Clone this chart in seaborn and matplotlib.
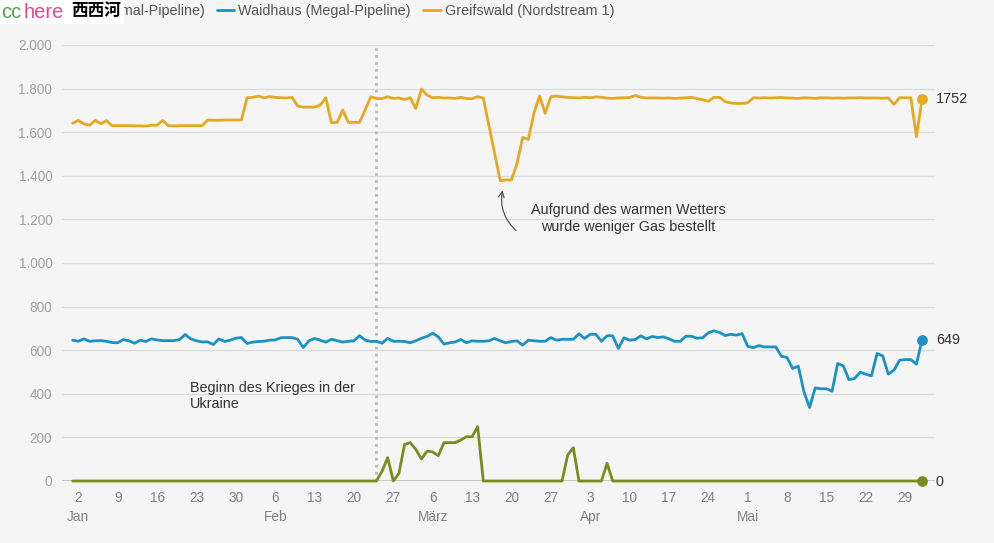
import numpy as np
import pandas as pd
import matplotlib
matplotlib.use("Agg")
import matplotlib.pyplot as plt
import matplotlib.dates as mdates
from matplotlib.patches import Rectangle
import seaborn as sns

# Gasfluss nach Deutschland, taeglich vom 1. Jan bis 1. Juni
dates = pd.date_range("2022-01-01", periods=152, freq="D")

greifswald = [
    1641, 1654, 1638, 1632, 1654, 1639, 1653, 1630, 1630, 1630, 1630, 1629, 1629, 1628,
    1632, 1632, 1654, 1630, 1629, 1630, 1630, 1630, 1630, 1630, 1656, 1655, 1655, 1656,
    1656, 1656, 1656, 1758, 1760, 1766, 1758, 1763, 1760, 1758, 1757, 1760, 1720, 1715,
    1715, 1715, 1724, 1758, 1644, 1644, 1702, 1645, 1645, 1645, 1702, 1763, 1755, 1754,
    1763, 1755, 1757, 1750, 1758, 1709, 1798, 1770, 1758, 1760, 1757, 1757, 1755, 1760,
    1754, 1754, 1763, 1757, 1631, 1504, 1378, 1381, 1381, 1457, 1576, 1567, 1687, 1766,
    1687, 1763, 1766, 1762, 1760, 1758, 1757, 1760, 1758, 1762, 1760, 1756, 1755, 1757,
    1758, 1759, 1768, 1760, 1757, 1757, 1757, 1756, 1757, 1755, 1756, 1758, 1760, 1754,
    1749, 1742, 1760, 1760, 1740, 1734, 1732, 1732, 1735, 1758, 1757, 1758, 1757, 1758,
    1759, 1757, 1756, 1755, 1758, 1757, 1755, 1758, 1758, 1756, 1757, 1756, 1757, 1757,
    1758, 1757, 1757, 1757, 1756, 1757, 1728, 1758, 1758, 1758, 1579, 1752,
]

waidhaus = [
    646, 641, 652, 641, 643, 644, 641, 635, 634, 649, 643, 632, 646, 640,
    652, 647, 644, 644, 644, 649, 672, 652, 643, 638, 638, 626, 652, 640,
    646, 655, 658, 631, 637, 640, 641, 646, 647, 657, 658, 658, 650, 612,
    643, 654, 646, 637, 650, 644, 637, 641, 643, 667, 646, 640, 641, 632,
    654, 641, 641, 640, 634, 643, 655, 663, 678, 661, 628, 634, 638, 649,
    634, 643, 641, 641, 643, 654, 643, 634, 640, 643, 623, 646, 643, 641,
    641, 658, 646, 650, 650, 650, 675, 654, 673, 673, 641, 666, 666, 608,
    657, 646, 649, 666, 652, 663, 658, 661, 652, 641, 641, 664, 664, 655,
    657, 680, 689, 681, 667, 673, 669, 676, 618, 612, 621, 615, 615, 615,
    572, 566, 516, 527, 409, 337, 427, 423, 423, 412, 539, 528, 465, 470,
    499, 490, 482, 585, 574, 490, 508, 554, 557, 557, 536, 649,
]

mallnow = [
    0, 0, 0, 0, 0, 0, 0, 0, 0, 0, 0, 0, 0, 0,
    0, 0, 0, 0, 0, 0, 0, 0, 0, 0, 0, 0, 0, 0,
    0, 0, 0, 0, 0, 0, 0, 0, 0, 0, 0, 0, 0, 0,
    0, 0, 0, 0, 0, 0, 0, 0, 0, 0, 0, 0, 0, 45,
    107, 0, 35, 168, 176, 145, 101, 137, 133, 116, 176, 176, 176, 188,
    203, 203, 249, 0, 0, 0, 0, 0, 0, 0, 0, 0, 0, 0,
    0, 0, 0, 0, 119, 153, 0, 0, 0, 0, 0, 81, 0, 0,
    0, 0, 0, 0, 0, 0, 0, 0, 0, 0, 0, 0, 0, 0,
    0, 0, 0, 0, 0, 0, 0, 0, 0, 0, 0, 0, 0, 0,
    0, 0, 0, 0, 0, 0, 0, 0, 0, 0, 0, 0, 0, 0,
    0, 0, 0, 0, 0, 0, 0, 0, 0, 0, 0, 0,
]

names = ["Mallnow (Jamal-Pipeline)", "Waidhaus (Megal-Pipeline)", "Greifswald (Nordstream 1)"]
colors = ["#7b8c1f", "#1a93c4", "#e5a823"]
monate = {1: "Jan", 2: "Feb", 3: "März", 4: "Apr", 5: "Mai"}

df = pd.DataFrame({"date": dates, names[0]: mallnow, names[1]: waidhaus, names[2]: greifswald})
long = df.melt(id_vars="date", var_name="pipeline", value_name="value")

sns.set_style("white")
plt.rcParams["font.family"] = ["Liberation Sans", "DejaVu Sans"]

bg = "#f5f5f5"
fig = plt.figure(figsize=(9.95, 5.43), dpi=100, facecolor=bg)
ax = fig.add_axes([62 / 995, 62 / 543, 873 / 995, 436 / 543])
ax.set_facecolor(bg)

sns.lineplot(data=long, x="date", y="value", hue="pipeline", hue_order=names,
             palette=colors, linewidth=2, ax=ax)
for ln in ax.lines:
    ln.set_clip_on(False)

ax.set_ylim(0, 2000)
x0 = mdates.date2num(dates[0])
ax.set_xlim(x0 - 1.9, x0 + 153.3)
sns.despine(ax=ax, left=True, bottom=True)
ax.set_xlabel("")
ax.set_ylabel("")

ax.set_yticks(range(0, 2001, 200))
ax.set_yticklabels([f"{v:,}".replace(",", ".") for v in range(0, 2001, 200)])
ax.yaxis.grid(True, color="#dcdcdc", lw=1)
ax.set_axisbelow(True)
ax.axhline(0, color="#222222", lw=1, zorder=1.5)

ticks = pd.date_range("2022-01-02", "2022-05-29", freq="7D")
labels = []
prev = None
for t in ticks:
    if t.month != prev:
        labels.append(f"{t.day}\n{monate[t.month]}")
        prev = t.month
    else:
        labels.append(f"{t.day}")
ax.set_xticks(ticks)
ax.set_xticklabels(labels, linespacing=1.5)
ax.tick_params(axis="x", length=0, pad=7, labelsize=9.8, labelcolor="#808080")
ax.tick_params(axis="y", length=0, pad=7, labelsize=9.8, labelcolor="#a0a0a0")

# Kriegsbeginn
ax.axvline(pd.Timestamp("2022-02-24"), color="#bbbbbb", lw=2, ls=(0, (1, 1.5)), zorder=1)
ax.text(x0 + 20.9, 390, "Beginn des Krieges in der\nUkraine", ha="left", va="center",
        fontsize=10.4, color="#333333", linespacing=1.2)

# Wetter-Hinweis
ax.text(x0 + 98.7, 1204, "Aufgrund des warmen Wetters\nwurde weniger Gas bestellt",
        ha="center", va="center", fontsize=10.4, color="#333333", linespacing=1.2)
ax.annotate("", xy=(x0 + 76.5, 1345), xytext=(x0 + 79.2, 1140),
            arrowprops=dict(arrowstyle="->", color="#444444", lw=0.8,
                            connectionstyle="arc3,rad=-0.3"))

# Endpunkte
for vals, c in zip([mallnow, waidhaus, greifswald], colors):
    ax.scatter(dates[-1], vals[-1], color=c, s=45, zorder=5, clip_on=False)
    ax.annotate(str(vals[-1]), xy=(dates[-1], vals[-1]), xytext=(10, -1 if vals[-1] == 0 else 0),
                textcoords="offset points", ha="left", va="center",
                fontsize=10.4, color="#333333", annotation_clip=False)

sns.move_legend(ax, "center left", bbox_to_anchor=(22 / 995, 1 - 11 / 543),
                bbox_transform=fig.transFigure, ncol=3, frameon=False, title=None,
                handlelength=1.2, handletextpad=0.3, columnspacing=0.85,
                fontsize=10.4, borderaxespad=0, borderpad=0)
leg = ax.get_legend()
for t in leg.get_texts():
    t.set_color("#555555")
for h in leg.legend_handles:
    h.set_linewidth(2)

# Wasserzeichen oben links
fig.patches.append(Rectangle((0, 1 - 24 / 543), 124 / 995, 24 / 543, transform=fig.transFigure,
                             facecolor="white", edgecolor="none", zorder=10))
fig.text(1 / 995, 1 - 12 / 543, "cc", color="#4aa64a", fontsize=14.5, va="center", zorder=11)
fig.text(24 / 995, 1 - 12 / 543, "here", color="#e8468a", fontsize=14.5, va="center", zorder=11)
fig.text(71 / 995, 1 - 11 / 543, "西西河", color="black", fontsize=12, fontweight="bold",
         va="center", zorder=11, family=["Noto Sans CJK SC", "DejaVu Sans"])

fig.savefig("out.png", dpi=100, facecolor=bg)
